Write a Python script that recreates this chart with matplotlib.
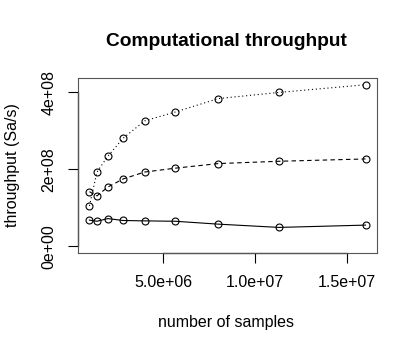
import matplotlib
matplotlib.use("Agg")
import matplotlib.pyplot as plt

plt.rcParams['font.family'] = ['Liberation Sans', 'DejaVu Sans']

# number of samples
samples = [1.0e6, 1.41e6, 2.0e6, 2.83e6, 4.0e6, 5.66e6, 8.0e6, 11.3e6, 16.0e6]
# throughput (Sa/s) for three runs
tp_solid  = [0.68e8, 0.65e8, 0.72e8, 0.67e8, 0.66e8, 0.65e8, 0.575e8, 0.49e8, 0.55e8]
tp_dashed = [1.42e8, 1.31e8, 1.54e8, 1.75e8, 1.93e8, 2.03e8, 2.15e8, 2.21e8, 2.27e8]
tp_dotted = [1.05e8, 1.93e8, 2.34e8, 2.81e8, 3.26e8, 3.49e8, 3.84e8, 4.00e8, 4.20e8]

xticks = [5e6, 1e7, 1.5e7]
xtick_labels = ["5.0e+06", "1.0e+07", "1.5e+07"]
yticks = [0, 2e8, 4e8]
ytick_labels = ["0e+00", "2e+08", "4e+08"]

fig = plt.figure(figsize=(4.17, 3.51), dpi=100)
ax = fig.add_axes([0.188, 0.280, 0.715, 0.497])

mk = dict(marker='o', markersize=5.0, fillstyle='none', markeredgewidth=0.8,
          color='black', lw=0.8)
ax.plot(samples, tp_solid, linestyle='-', **mk)
ax.plot(samples, tp_dashed, linestyle=(0, (4, 3)), **mk)
ax.plot(samples, tp_dotted, linestyle=(0, (1, 2.5)), **mk)

# R-like padding (4%)
xr = samples[-1] - samples[0]
ax.set_xlim(samples[0] - 0.04 * xr, samples[-1] + 0.04 * xr)
ymax = max(tp_dotted)
ax.set_ylim(-0.04 * ymax, ymax * 1.04)

for s in ax.spines.values():
    s.set_color('#555555')
    s.set_linewidth(0.8)

ax.set_xticks(xticks)
ax.set_xticklabels(xtick_labels)
ax.set_yticks(yticks)
ax.set_yticklabels(ytick_labels, rotation=90, va='center')
ax.tick_params(direction='out', length=7, width=0.8, labelsize=11.5, color='black')
ax.tick_params(axis='x', pad=9)
ax.tick_params(axis='y', pad=9)

# axis lines spanning the ticks, like base R graphics
ax.plot([xticks[0], xticks[-1]], [0, 0], transform=ax.get_xaxis_transform(),
        color='black', lw=0.9, clip_on=False)
ax.plot([0, 0], [yticks[0], yticks[-1]], transform=ax.get_yaxis_transform(),
        color='black', lw=0.9, clip_on=False)

fig.text(0.542, 0.883, "Computational throughput", ha='center', va='center',
         fontsize=13.8, fontweight='bold')
fig.text(0.542, 0.082, "number of samples", ha='center', va='center', fontsize=11.5)
fig.text(0.031, 0.53, "throughput (Sa/s)", ha='center', va='center',
         rotation=90, fontsize=11.5)

fig.savefig("out.png", dpi=100)
